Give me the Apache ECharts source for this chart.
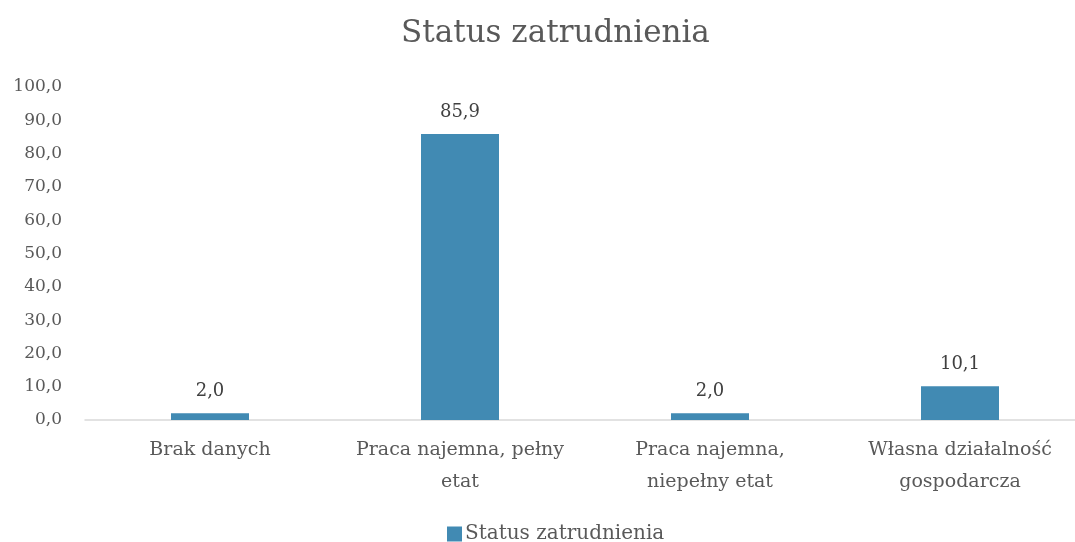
<!DOCTYPE html>
<html>
<head>
<meta charset="utf-8">
<script src="https://cdn.jsdelivr.net/npm/echarts@6/dist/echarts.min.js"></script>
<style>
  html, body { margin: 0; padding: 0; background: #fff; overflow: hidden; }
  /* obszar rysunku wychodzi poza prawy brzeg, jak w oryginale */
  #chart { width: 1085px; height: 542px; }
</style>
</head>
<body>
<div id="chart"></div>
<script>
  // dane z wykresu
  const categories = ['Brak danych', 'Praca najemna, pełny\netat', 'Praca najemna,\nniepełny etat', 'Własna działalność\ngospodarcza']
  const values = [2.0, 85.9, 2.0, 10.1]
  const seriesName = 'Status zatrudnienia'

  const font = '"DejaVu Serif", "Liberation Serif", serif'
  const grey = '#595959'
  const fmt = v => Number(v).toFixed(1).replace('.', ',')

  const chart = echarts.init(document.getElementById('chart'))
  chart.setOption({
    backgroundColor: '#fff',
    animation: false,
    title: {
      text: 'Status zatrudnienia',
      left: 396,
      top: 13,
      textStyle: { fontFamily: font, fontSize: 31, fontWeight: 'normal', color: grey }
    },
    legend: {
      top: 519,
      left: 442,
      itemWidth: 15,
      itemHeight: 15,
      icon: 'rect',
      textStyle: { fontFamily: font, fontSize: 20, color: grey, padding: [0, 0, 0, -2] },
      data: [seriesName]
    },
    grid: { left: 85, top: 87, right: 0, bottom: 122, containLabel: false },
    xAxis: {
      type: 'category',
      data: categories,
      axisLine: { lineStyle: { color: '#D9D9D9', width: 1.5 } },
      axisTick: { show: false },
      axisLabel: {
        interval: 0,
        margin: 14,
        fontFamily: font,
        fontSize: 19,
        lineHeight: 32,
        color: grey
      }
    },
    yAxis: {
      type: 'value',
      min: 0,
      max: 100,
      interval: 10,
      splitLine: { show: false },
      axisLine: { show: false },
      axisTick: { show: false },
      axisLabel: {
        margin: 23,
        fontFamily: font,
        fontSize: 17,
        color: grey,
        formatter: fmt
      }
    },
    series: [{
      name: seriesName,
      type: 'bar',
      data: values,
      barWidth: 78,
      itemStyle: { color: '#418AB3' },
      label: {
        show: true,
        position: 'top',
        distance: 13,
        fontFamily: font,
        fontSize: 18,
        color: '#404040',
        formatter: p => fmt(p.value)
      }
    }]
  })
</script>
</body>
</html>
